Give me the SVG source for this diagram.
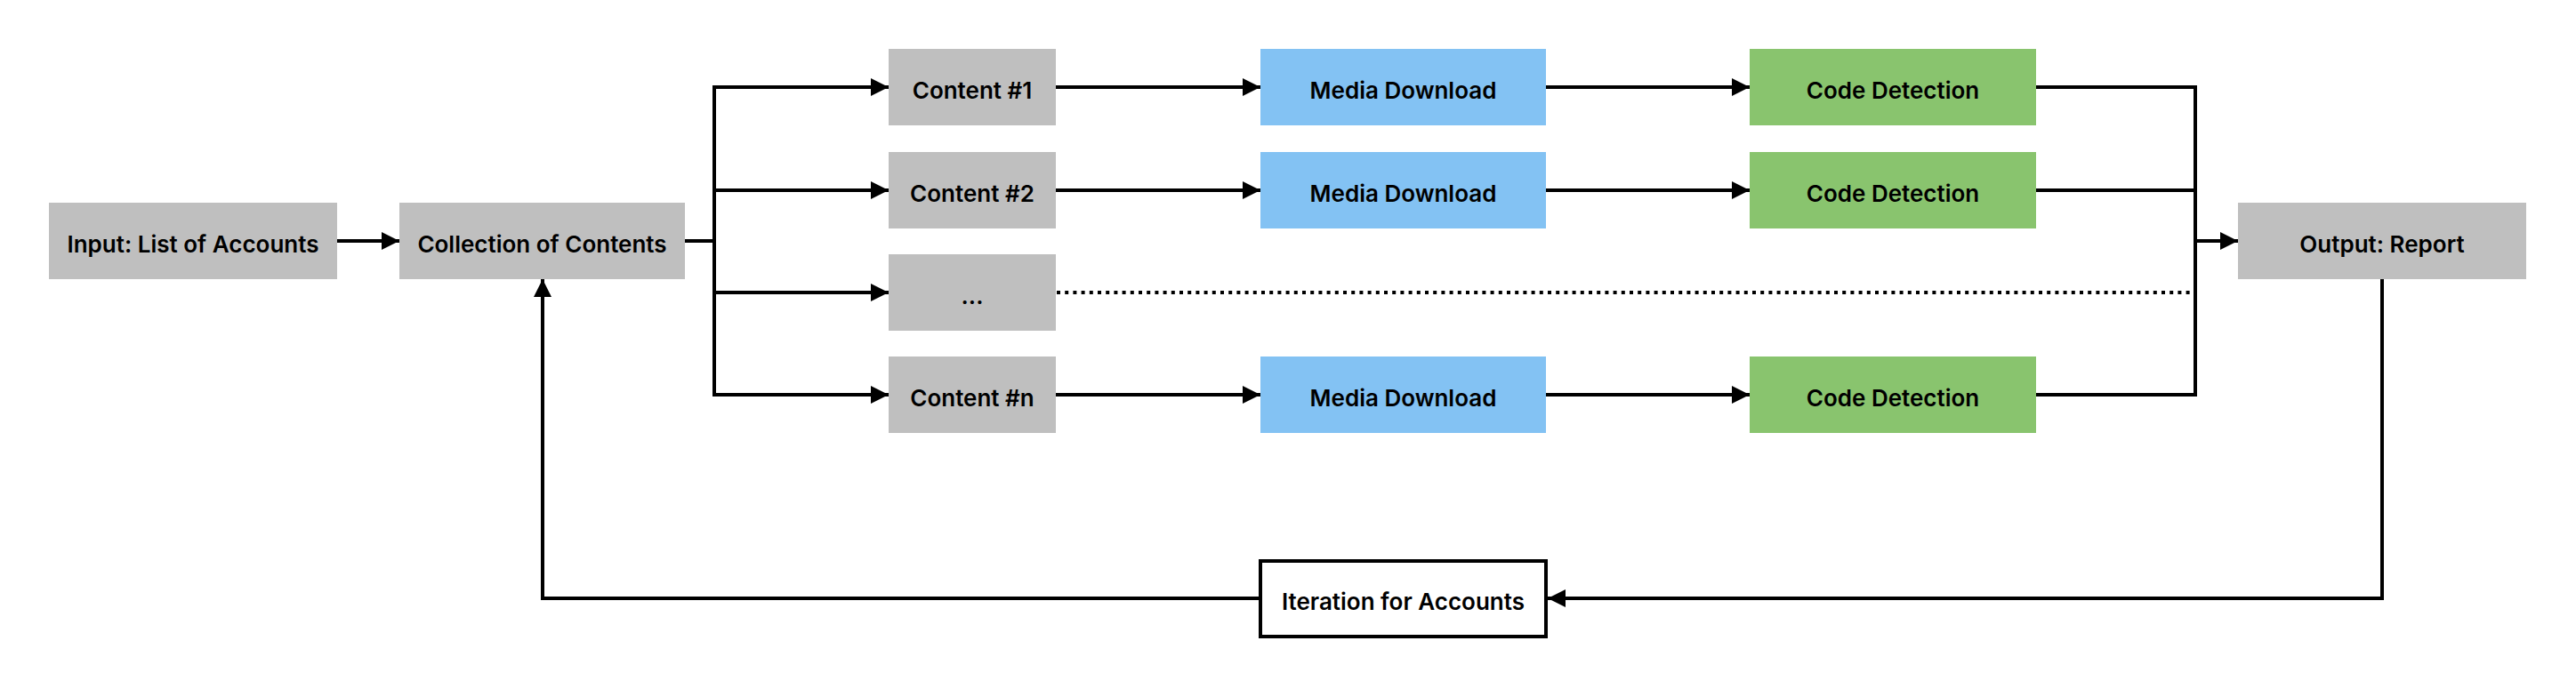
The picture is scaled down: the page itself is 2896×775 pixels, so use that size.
<svg xmlns="http://www.w3.org/2000/svg" width="2896" height="775" viewBox="0 0 2896 775">
  <style>
    .gray { fill: #BFBFBF; }
    .blue { fill: #83C2F3; }
    .green { fill: #89C46E; }
    .iter { fill: #FFFFFF; stroke: #000000; stroke-width: 4; }
    .lbl { font-family: Inter, "Liberation Sans", sans-serif; font-weight: 600; font-size: 26px; fill: #000000; text-anchor: middle; }
    .ln { fill: none; stroke: #000000; stroke-width: 4; stroke-linejoin: miter; }
    .arr { marker-end: url(#ah); }
    .dot { stroke-dasharray: 4 5.2; }
  </style>
  <defs>
    <marker id="ah" markerUnits="userSpaceOnUse" markerWidth="20" markerHeight="20" refX="20" refY="10" orient="auto" viewBox="0 0 20 20">
      <path d="M0,0 L20,10 L0,20 z" fill="#000000"/>
    </marker>
  </defs>
  <rect width="2896" height="775" fill="#FFFFFF"/>

  <g id="connectors">
    <path class="ln arr" d="M379,271 H449"/>
    <path class="ln" d="M770,271 H803"/>
    <path class="ln" d="M803,98 V444"/>
    <path class="ln arr" d="M801,98 H999"/>
    <path class="ln arr" d="M803,214 H999"/>
    <path class="ln arr" d="M803,329 H999"/>
    <path class="ln arr" d="M801,444 H999"/>
    <path class="ln arr" d="M1187,98 H1417"/>
    <path class="ln arr" d="M1187,214 H1417"/>
    <path class="ln arr" d="M1187,444 H1417"/>
    <path class="ln arr" d="M1738,98 H1967"/>
    <path class="ln arr" d="M1738,214 H1967"/>
    <path class="ln arr" d="M1738,444 H1967"/>
    <path class="ln" d="M2289,98 H2470"/>
    <path class="ln" d="M2289,214 H2468"/>
    <path class="ln" d="M2289,444 H2470"/>
    <path class="ln dot" d="M1188,329 H2466"/>
    <path class="ln" d="M2468,96 V446"/>
    <path class="ln arr" d="M2468,271 H2516"/>
    <path class="ln arr" d="M2678,314 V673 H1740"/>
    <path class="ln arr" d="M1415,673 H610 V314"/>
  </g>

  <g id="input">
    <rect class="gray" x="55" y="228" width="324" height="86"/>
    <text class="lbl" x="217" y="284">Input: List of Accounts</text>
  </g>
  <g id="collection">
    <rect class="gray" x="449" y="228" width="321" height="86"/>
    <text class="lbl" x="609.5" y="284">Collection of Contents</text>
  </g>

  <g id="content1">
    <rect class="gray" x="999" y="55" width="188" height="86"/>
    <text class="lbl" x="1093" y="111">Content #1</text>
  </g>
  <g id="content2">
    <rect class="gray" x="999" y="171" width="188" height="86"/>
    <text class="lbl" x="1093" y="227">Content #2</text>
  </g>
  <g id="content-more">
    <rect class="gray" x="999" y="286" width="188" height="86"/>
    <text class="lbl" x="1093" y="342">...</text>
  </g>
  <g id="contentn">
    <rect class="gray" x="999" y="401" width="188" height="86"/>
    <text class="lbl" x="1093" y="457">Content #n</text>
  </g>

  <g id="media1">
    <rect class="blue" x="1417" y="55" width="321" height="86"/>
    <text class="lbl" x="1577.5" y="111">Media Download</text>
  </g>
  <g id="media2">
    <rect class="blue" x="1417" y="171" width="321" height="86"/>
    <text class="lbl" x="1577.5" y="227">Media Download</text>
  </g>
  <g id="median">
    <rect class="blue" x="1417" y="401" width="321" height="86"/>
    <text class="lbl" x="1577.5" y="457">Media Download</text>
  </g>

  <g id="code1">
    <rect class="green" x="1967" y="55" width="322" height="86"/>
    <text class="lbl" x="2128" y="111">Code Detection</text>
  </g>
  <g id="code2">
    <rect class="green" x="1967" y="171" width="322" height="86"/>
    <text class="lbl" x="2128" y="227">Code Detection</text>
  </g>
  <g id="coden">
    <rect class="green" x="1967" y="401" width="322" height="86"/>
    <text class="lbl" x="2128" y="457">Code Detection</text>
  </g>

  <g id="output">
    <rect class="gray" x="2516" y="228" width="324" height="86"/>
    <text class="lbl" x="2678" y="284">Output: Report</text>
  </g>

  <g id="iteration">
    <rect class="iter" x="1417" y="631" width="321" height="85"/>
    <text class="lbl" x="1577.5" y="686">Iteration for Accounts</text>
  </g>
</svg>
